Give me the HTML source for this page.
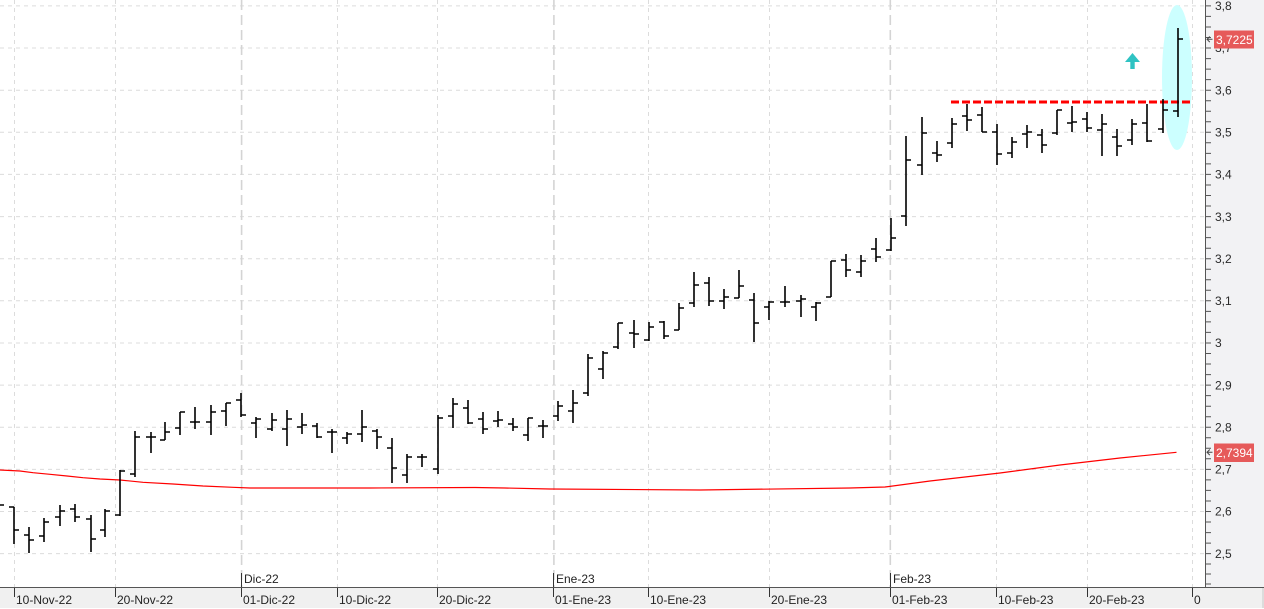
<!DOCTYPE html>
<html><head><meta charset="utf-8"><style>
html,body{margin:0;padding:0;background:#fff;}
svg{display:block;}
text{font-family:"Liberation Sans",Arial,sans-serif;font-size:12px;}
</style></head><body>
<svg width="1264" height="609" viewBox="0 0 1264 609" xmlns="http://www.w3.org/2000/svg">
<rect x="0" y="0" width="1264" height="609" fill="#ffffff"/>
<rect x="1206" y="0" width="58" height="588" fill="#f2f2f4"/>
<rect x="0" y="588" width="1264" height="20" fill="#f0f0f0"/>
<line x1="1263" y1="588" x2="1263" y2="608" stroke="#c8c8c8" stroke-width="1"/>
<g stroke="#dcdcdc" stroke-width="1" stroke-dasharray="4,4">
<line x1="0" y1="5.9" x2="1205" y2="5.9"/>
<line x1="0" y1="48" x2="1205" y2="48"/>
<line x1="0" y1="90.2" x2="1205" y2="90.2"/>
<line x1="0" y1="132.3" x2="1205" y2="132.3"/>
<line x1="0" y1="174.4" x2="1205" y2="174.4"/>
<line x1="0" y1="216.6" x2="1205" y2="216.6"/>
<line x1="0" y1="258.7" x2="1205" y2="258.7"/>
<line x1="0" y1="300.8" x2="1205" y2="300.8"/>
<line x1="0" y1="343" x2="1205" y2="343"/>
<line x1="0" y1="385.1" x2="1205" y2="385.1"/>
<line x1="0" y1="427.2" x2="1205" y2="427.2"/>
<line x1="0" y1="469.4" x2="1205" y2="469.4"/>
<line x1="0" y1="511.5" x2="1205" y2="511.5"/>
<line x1="0" y1="553.6" x2="1205" y2="553.6"/>
</g>
<g stroke="#dcdcdc" stroke-width="1" stroke-dasharray="4,4">
<line x1="14.5" y1="0" x2="14.5" y2="587"/>
<line x1="115.5" y1="0" x2="115.5" y2="587"/>
<line x1="337.5" y1="0" x2="337.5" y2="587"/>
<line x1="437.5" y1="0" x2="437.5" y2="587"/>
<line x1="648.5" y1="0" x2="648.5" y2="587"/>
<line x1="769.5" y1="0" x2="769.5" y2="587"/>
<line x1="996.5" y1="0" x2="996.5" y2="587"/>
<line x1="1087.5" y1="0" x2="1087.5" y2="587"/>
<line x1="1192.5" y1="0" x2="1192.5" y2="587"/>
</g>
<g stroke="#d4d4d4" stroke-width="1.6" stroke-dasharray="10,5">
<line x1="241.6" y1="0" x2="241.6" y2="587"/>
<line x1="553.9" y1="0" x2="553.9" y2="587"/>
<line x1="890.3" y1="0" x2="890.3" y2="587"/>
</g>
<ellipse cx="1177" cy="77.5" rx="15" ry="72.5" fill="#ccffff"/>
<polyline fill="none" stroke="#ff0000" stroke-width="1.2" points="0,470 20,471 33,472.7 50,474.3 67,476 83,477.7 100,479 120,480 143,482.3 173,484 203,486 233,487.3 250,488 370,488 475,487.5 505,488 550,489 700,490 850,488 885,487 930,481 1000,473 1060,465 1120,458 1176.5,452.3"/>
<line x1="951" y1="102" x2="1192" y2="102" stroke="#ff0000" stroke-width="3" stroke-dasharray="8,3"/>
<polygon points="1125,62 1132.5,53 1140,62" fill="#2fc3c3"/>
<rect x="1130.3" y="61.5" width="4.4" height="7.5" fill="#2fc3c3"/>
<path fill="none" stroke="#000" stroke-width="1.6" d="M-1,500V512M-1,505H4 M14,507V544M9,507H14M14,530H19 M29,527V553M24,535H29M29,540H34 M44,518V542M39,536H44M44,522H49 M60,505V526M55,517H60M60,511H65 M75,504V522M70,509H75M75,517H80 M91,515V552M86,519H91M91,539H96 M105,509V537M100,530H105M105,511H110 M120,470V516M115,515H120M120,471H125 M135,431V477M130,474H135M135,437H140 M151,432V453M146,437H151M151,437H156 M165,422V440M160,440H165M165,432H170 M180,412V435M175,428H180M180,412H185 M195,407V429M190,422H195M195,422H200 M211,405V435M206,422H211M211,412H216 M226,403V426M221,411H226M226,403H231 M241,393V417M236,400H241M241,415H246 M256,417V438M251,423H256M256,419H261 M272,413V431M267,429H272M272,420H277 M287,410V446M282,429H287M287,419H292 M302,413V434M297,427H302M302,425H307 M317,423V438M312,426H317M317,437H322 M332,429V453M327,432H332M332,432H337 M347,432V444M342,438H347M347,434H352 M362,410V442M357,434H362M362,427H367 M377,429V449M372,431H377M377,437H382 M392,438V483M387,448H392M392,468H397 M407,454V483M402,475H407M407,457H412 M422,454V467M417,457H422M422,457H427 M438,415V474M433,469H438M438,418H443 M453,398V428M448,416H453M453,404H458 M468,400V424M463,408H468M468,423H473 M483,412V434M478,419H483M483,429H488 M498,411V427M493,421H498M498,420H503 M513,418V431M508,424H513M513,427H518 M528,418V441M523,435H528M528,418H533 M543,420V438M538,426H543M543,426H548 M558,401V421M553,416H558M558,406H563 M573,390V423M568,411H573M573,403H578 M588,354V396M583,393H588M588,358H593 M603,351V379M598,369H603M603,353H608 M618,323V349M613,347H618M618,323H623 M634,320V348M629,333H634M634,334H639 M649,322V341M644,340H649M649,327H654 M664,321V339M659,322H664M664,336H669 M679,303V330M674,330H679M679,308H684 M694,272V307M689,303H694M694,285H699 M709,277V306M704,283H709M709,301H714 M724,289V309M719,301H724M724,297H729 M739,270V298M734,298H739M739,286H744 M754,293V342M749,300H754M754,323H759 M769,301V320M764,307H769M769,302H774 M785,286V307M780,302H785M785,302H790 M801,295V317M796,301H801M801,299H806 M816,302V321M811,307H816M816,303H821 M831,261V297M826,297H831M831,261H836 M846,254V277M841,260H846M846,270H851 M861,255V277M856,272H861M861,261H866 M876,238V262M871,249H876M876,257H881 M891,218V251M886,250H891M891,238H896 M906,136V226M901,216H906M906,160H911 M922,117V175M917,165H922M922,133H927 M937,141V162M932,153H937M937,155H942 M952,118V148M947,143H952M952,124H957 M967,104V131M962,116H967M967,120H972 M982,107V132M977,115H982M982,132H987 M997,124V165M992,132H997M997,154H1002 M1012,137V158M1007,153H1012M1012,142H1017 M1027,125V148M1022,134H1027M1027,132H1032 M1042,129V153M1037,135H1042M1042,145H1047 M1057,110V135M1052,133H1057M1057,110H1062 M1072,106V132M1067,123H1072M1072,122H1077 M1087,112V132M1082,119H1087M1087,128H1092 M1102,114V156M1097,130H1102M1102,124H1107 M1117,129V156M1112,137H1117M1117,146H1122 M1132,119V145M1127,140H1132M1132,124H1137 M1147,104V142M1142,123H1147M1147,141H1152 M1163,99V133M1158,129H1163M1163,110H1168 M1178,28V117M1173,111H1178M1178,39H1183"/>
<line x1="1205.5" y1="0" x2="1205.5" y2="588" stroke="#555" stroke-width="1"/>
<line x1="0" y1="587.5" x2="1264" y2="587.5" stroke="#555" stroke-width="1"/>
<path stroke="#555" stroke-width="1" fill="none" d="M1206,5.9H1211M1206,16.4H1211M1206,27H1211M1206,37.5H1211M1206,48H1211M1206,58.6H1211M1206,69.1H1211M1206,79.6H1211M1206,90.2H1211M1206,100.7H1211M1206,111.2H1211M1206,121.8H1211M1206,132.3H1211M1206,142.8H1211M1206,153.4H1211M1206,163.9H1211M1206,174.4H1211M1206,185H1211M1206,195.5H1211M1206,206H1211M1206,216.6H1211M1206,227.1H1211M1206,237.6H1211M1206,248.2H1211M1206,258.7H1211M1206,269.2H1211M1206,279.8H1211M1206,290.3H1211M1206,300.8H1211M1206,311.4H1211M1206,321.9H1211M1206,332.4H1211M1206,343H1211M1206,353.5H1211M1206,364H1211M1206,374.6H1211M1206,385.1H1211M1206,395.6H1211M1206,406.2H1211M1206,416.7H1211M1206,427.2H1211M1206,437.8H1211M1206,448.3H1211M1206,458.8H1211M1206,469.4H1211M1206,479.9H1211M1206,490.4H1211M1206,501H1211M1206,511.5H1211M1206,522H1211M1206,532.6H1211M1206,543.1H1211M1206,553.6H1211M1206,564H1211M1206,574H1211M1206,584H1211"/>
<g fill="#2a2a2a">
<text x="1215" y="10">3,8</text>
<text x="1215" y="52.2">3,7</text>
<text x="1215" y="94.4">3,6</text>
<text x="1215" y="136.5">3,5</text>
<text x="1215" y="178.6">3,4</text>
<text x="1215" y="220.8">3,3</text>
<text x="1215" y="262.9">3,2</text>
<text x="1215" y="305">3,1</text>
<text x="1215" y="347.2">3</text>
<text x="1215" y="389.3">2,9</text>
<text x="1215" y="431.4">2,8</text>
<text x="1215" y="473.6">2,7</text>
<text x="1215" y="515.7">2,6</text>
<text x="1215" y="557.8">2,5</text>
</g>
<path d="M1212.5,39.3H1207M1209.8,36.5L1207,39.3L1209.8,42.1" stroke="#444" stroke-width="1" fill="none"/>
<rect x="1214" y="30.5" width="40" height="18" fill="#e65a5a"/>
<text x="1216" y="44" fill="#ffffff">3,7225</text>
<path d="M1212.5,452.3H1207M1209.8,449.5L1207,452.3L1209.8,455.1" stroke="#444" stroke-width="1" fill="none"/>
<rect x="1214" y="443.5" width="40" height="18.5" fill="#e65a5a"/>
<text x="1216" y="457" fill="#ffffff">2,7394</text>
<path stroke="#333" stroke-width="1" fill="none" d="M14.5,588V597M115.5,588V597M241.5,588V597M337.5,588V597M437.5,588V597M553.5,588V597M648.5,588V597M769.5,588V597M890.5,588V597M996.5,588V597M1087.5,588V597M1192.5,588V597M241.5,573V587M553.5,573V587M890.5,573V587"/>
<g fill="#222">
<text x="244" y="583">Dic-22</text>
<text x="556" y="583">Ene-23</text>
<text x="893" y="583">Feb-23</text>
<text x="16" y="604">10-Nov-22</text>
<text x="117" y="604">20-Nov-22</text>
<text x="243" y="604">01-Dic-22</text>
<text x="339" y="604">10-Dic-22</text>
<text x="439" y="604">20-Dic-22</text>
<text x="555" y="604">01-Ene-23</text>
<text x="650" y="604">10-Ene-23</text>
<text x="771" y="604">20-Ene-23</text>
<text x="892" y="604">01-Feb-23</text>
<text x="998" y="604">10-Feb-23</text>
<text x="1089" y="604">20-Feb-23</text>
<text x="1194" y="604">0</text>
</g>
</svg>
</body></html>
